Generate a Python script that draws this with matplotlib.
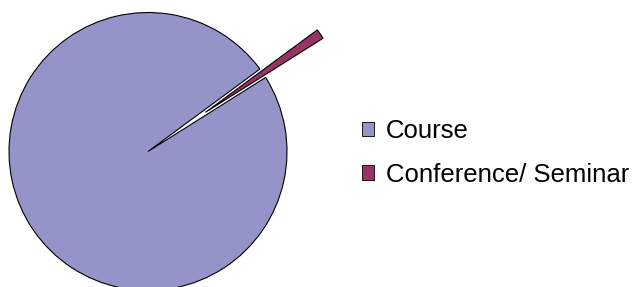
import matplotlib
matplotlib.use("Agg")
import matplotlib.pyplot as plt
from matplotlib.patches import Patch

labels = ["Course", "Conference/ Seminar"]
values = [85, 1]
colors = ["#9494C8", "#993366"]
explode = [0, 0.5]

plt.rcParams["font.family"] = ["Liberation Sans", "DejaVu Sans"]

W, H = 633, 287
fig = plt.figure(figsize=(W / 100, H / 100), dpi=100)

# pie centre (148, 151) px, radius 139 px
cx, cy, r = 148, 151.5, 139
ax = fig.add_axes([(cx - r) / W, (H - cy - r) / H, 2 * r / W, 2 * r / H])
ax.pie(values, colors=colors, explode=explode, startangle=32.2,
       counterclock=False, radius=1,
       wedgeprops=dict(edgecolor="black", linewidth=0.8))
ax.set_xlim(-1, 1)
ax.set_ylim(-1, 1)
ax.set_aspect("auto")
ax.axis("off")

handles = [Patch(facecolor=c, edgecolor="black", linewidth=0.6) for c in colors]
fig.legend(handles, labels, loc="center left", bbox_to_anchor=(362 / W, 1 - 153 / H),
           frameon=False, fontsize=18.5, handlelength=0.47, handleheight=0.47,
           handletextpad=0.45, labelspacing=0.75, borderaxespad=0, borderpad=0)

fig.savefig("out.png", dpi=100)
